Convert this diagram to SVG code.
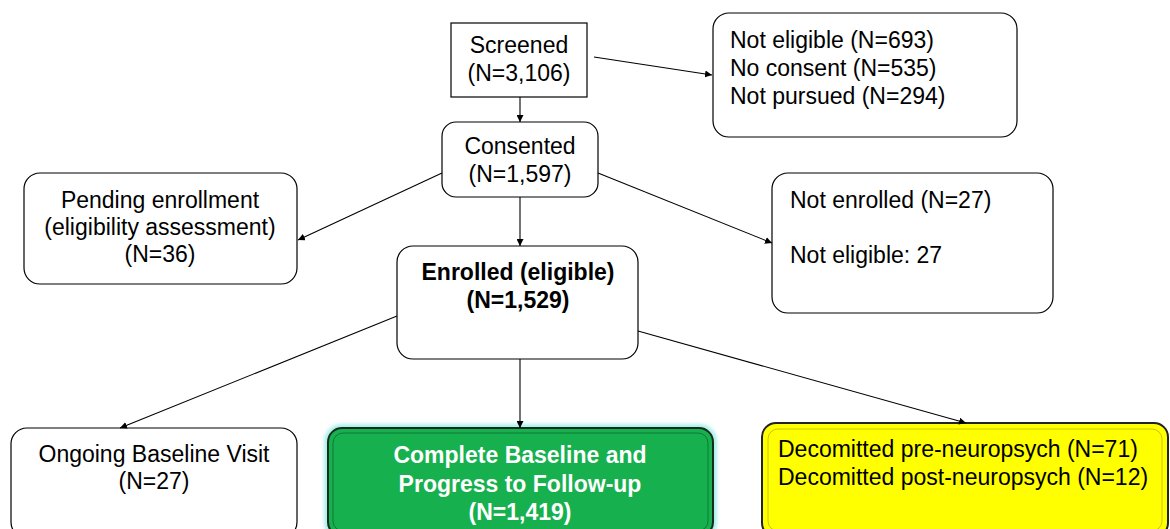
<svg xmlns="http://www.w3.org/2000/svg" width="1170" height="529" viewBox="0 0 1170 529">
<defs>
<marker id="ah" viewBox="0 0 10 10" refX="10" refY="5" markerWidth="7" markerHeight="7" orient="auto" markerUnits="userSpaceOnUse">
<path d="M0,0 L10,5 L0,10 z" fill="#000"/>
</marker>
<filter id="glow" x="-5%" y="-10%" width="110%" height="120%">
<feGaussianBlur stdDeviation="2"/>
</filter>
</defs>
<style>
.box{fill:#fff;stroke:#000;stroke-width:1.2}
.t{font-family:"Liberation Sans",Arial,sans-serif;font-size:23px;fill:#000}
.c{text-anchor:middle}
.b{font-weight:bold}
.w{fill:#fff}
.conn line{stroke:#000;stroke-width:1.1;marker-end:url(#ah)}
</style>
<rect width="1170" height="529" fill="#fff"/>
<g id="screened">
<rect class="box" x="451" y="23" width="136" height="74"/>
<text class="t c" x="519" y="53">Screened</text>
<text class="t c" x="519" y="81">(N=3,106)</text>
</g>
<g id="excluded">
<rect class="box" x="713" y="13" width="304" height="124" rx="16"/>
<text class="t" x="730" y="48">Not eligible (N=693)</text>
<text class="t" x="730" y="76">No consent (N=535)</text>
<text class="t" x="730" y="104">Not pursued (N=294)</text>
</g>
<g id="consented">
<rect class="box" x="442" y="122" width="156" height="75" rx="14"/>
<text class="t c" x="520" y="154">Consented</text>
<text class="t c" x="520" y="182">(N=1,597)</text>
</g>
<g id="pending">
<rect class="box" x="24" y="173" width="273" height="111" rx="16"/>
<text class="t c" x="160" y="208">Pending enrollment</text>
<text class="t c" x="160" y="235">(eligibility assessment)</text>
<text class="t c" x="160" y="262">(N=36)</text>
</g>
<g id="notenrolled">
<rect class="box" x="772" y="173" width="281" height="140" rx="16"/>
<text class="t" x="790" y="208">Not enrolled (N=27)</text>
<text class="t" x="790" y="263">Not eligible: 27</text>
</g>
<g id="enrolled">
<rect class="box" x="397" y="246" width="241" height="113" rx="16"/>
<text class="t c b" x="518" y="280">Enrolled (eligible)</text>
<text class="t c b" x="518" y="308">(N=1,529)</text>
</g>
<g id="ongoing">
<rect class="box" x="11" y="428" width="286" height="110" rx="16"/>
<text class="t c" x="154" y="462">Ongoing Baseline Visit</text>
<text class="t c" x="154" y="489">(N=27)</text>
</g>
<g id="complete">
<rect x="327" y="427" width="387" height="110" rx="14" fill="none" stroke="#7fe8e0" stroke-width="4" filter="url(#glow)"/>
<rect x="328" y="428" width="385" height="108" rx="14" fill="#17b04e" stroke="#1a2a1e" stroke-width="2"/>
<rect x="333" y="433" width="375" height="98" rx="10" fill="none" stroke="#0f7a35" stroke-width="1"/>
<text class="t c b w" x="520" y="463">Complete Baseline and</text>
<text class="t c b w" x="520" y="492">Progress to Follow-up</text>
<text class="t c b w" x="520" y="520">(N=1,419)</text>
</g>
<g id="decomitted">
<rect x="762" y="423" width="406" height="114" rx="14" fill="#ffff00" stroke="#222" stroke-width="2"/>
<rect x="768" y="429" width="394" height="102" rx="10" fill="none" stroke="#c8c800" stroke-width="1"/>
<text class="t" x="778" y="457">Decomitted pre-neuropsych (N=71)</text>
<text class="t" x="778" y="485">Decomitted post-neuropsych (N=12)</text>
</g>
<g id="connectors" class="conn">
<line x1="520" y1="97" x2="520" y2="122"/>
<line x1="594" y1="57" x2="712" y2="75"/>
<line x1="442" y1="173" x2="298" y2="240"/>
<line x1="598" y1="173" x2="772" y2="243"/>
<line x1="520" y1="197" x2="520" y2="246"/>
<line x1="397" y1="316" x2="120" y2="428"/>
<line x1="520" y1="359" x2="520" y2="428"/>
<line x1="638" y1="331" x2="966" y2="423"/>
</g>
</svg>
